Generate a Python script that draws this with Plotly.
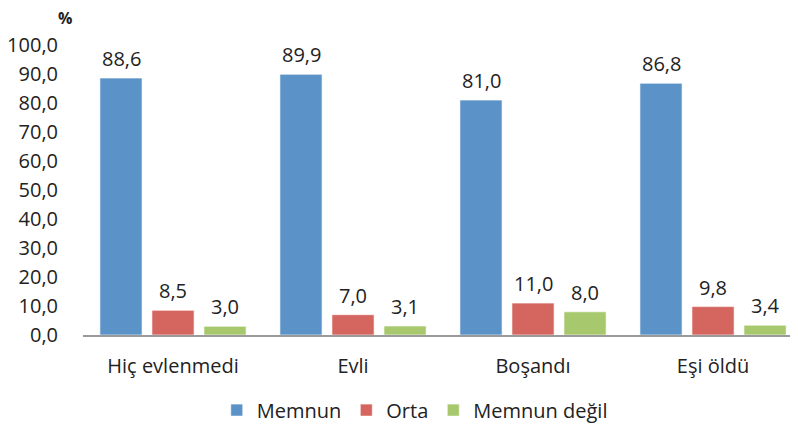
import plotly.graph_objects as go

categories = ["Hiç evlenmedi", "Evli", "Boşandı", "Eşi öldü"]
memnun = [88.6, 89.9, 81.0, 86.8]
orta = [8.5, 7.0, 11.0, 9.8]
memnun_degil = [3.0, 3.1, 8.0, 3.4]
series_names = ["Memnun", "Orta", "Memnun değil"]
y_ticks = [0, 10, 20, 30, 40, 50, 60, 70, 80, 90, 100]

colors = ["#5B93C9", "#D4665F", "#A7C86D"]
FONT = "Open Sans"
FS = 20

def fmt(v):
    return f"{v:.1f}".replace(".", ",")

fig = go.Figure()
series = [memnun, orta, memnun_degil]
for name, vals, col in zip(series_names, series, colors):
    fig.add_trace(go.Bar(
        x=categories, y=vals, name=name,
        marker=dict(color=col, line=dict(color="rgba(255,255,255,0.6)", width=1)),
    ))

# value labels
offsets = [-52, 0, 52]
for vals, off in zip(series, offsets):
    for c, v in zip(categories, vals):
        fig.add_annotation(x=c, y=v, text=fmt(v), showarrow=False,
                           xref="x", yref="y", xshift=off, yshift=4,
                           yanchor="bottom", font=dict(size=FS, color="#222222", family=FONT))

fig.add_annotation(text="<b>%</b>", x=(57 - 75) / 715, y=1 + 39 / 290,
                   xref="paper", yref="paper", showarrow=False, borderpad=0,
                   xanchor="center", yanchor="top",
                   font=dict(size=16, color="#222222", family=FONT))

fig.update_layout(
    width=790, height=416,
    margin=dict(l=75, r=0, t=37, b=89, autoexpand=False),
    paper_bgcolor="white", plot_bgcolor="white",
    barmode="group", bargap=0.133, bargroupgap=0.19,
    font=dict(family=FONT, size=FS, color="#222222"),
    showlegend=True,
    legend=dict(orientation="h", x=0.464, xanchor="center", y=-0.259, yanchor="middle",
                font=dict(size=FS, family=FONT), itemwidth=30, tracegroupgap=0,
                traceorder="normal"),
)
fig.update_xaxes(range=[-0.5, 3.472], showline=True, linecolor="#9A9A9A", linewidth=2,
                 ticks="", showgrid=False, ticklabelstandoff=12, automargin=False,
                 tickfont=dict(size=FS, family=FONT))
fig.update_yaxes(range=[0, 100], tickvals=y_ticks, ticktext=[fmt(v) for v in y_ticks],
                 showgrid=False, zeroline=False, showline=False, ticks="", automargin=False,
                 ticklabelstandoff=24, tickfont=dict(size=FS, family=FONT))

fig.write_html("out.html")
